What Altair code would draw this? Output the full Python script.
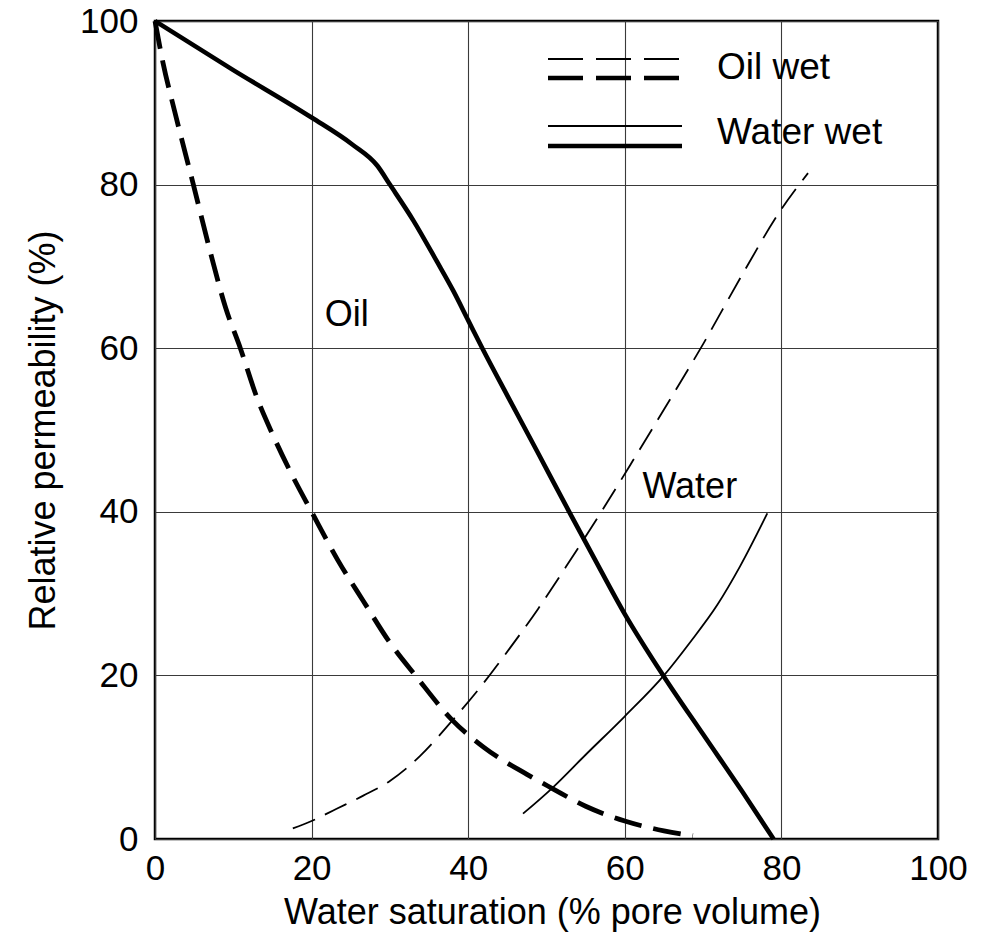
import altair as alt
import pandas as pd

# ---- data ----
ww_oil_x = [0, 10, 20, 25.2, 28.4, 30, 33, 36, 38.1, 40, 41.9, 45, 48.8, 52.9, 56, 60, 64.9, 70, 75, 79]
ww_oil_y = [100, 94, 88.2, 84.9, 82.3, 80, 75.6, 70.6, 67.0, 63.4, 59.8, 54.2, 47.4, 40, 34.5, 27.5, 20, 12.8, 5.8, 0]

ow_oil_x = [0, 1, 2.5, 4.9, 7, 9, 10.9, 13, 15, 17.5, 20, 23.4, 26.6, 30, 33.5, 37.9, 42, 47.5, 50.7, 55, 60, 65, 68.7]
ow_oil_y = [100, 95, 89, 80, 72, 65, 60, 54, 49.5, 44.5, 40, 34, 29.1, 24, 19.7, 14.6, 11.2, 7.9, 6.2, 4.0, 2.2, 1.0, 0.4]

ow_water_x = [17.6, 20, 23.2, 26.6, 30, 33.8, 37.9, 41.5, 45.3, 48.9, 52.5, 57, 61, 65, 70, 75, 80, 83.4]
ow_water_y = [1.3, 2.2, 3.7, 5.3, 7.1, 10.1, 14.4, 18.5, 23.3, 28.1, 33.3, 40, 46.2, 52.5, 60.5, 69, 77, 81.4]

ww_water_x = [47, 50.7, 55, 60, 65, 68.3, 71.8, 74.7, 78.2]
ww_water_y = [3.1, 6.2, 10.3, 15, 20, 24.0, 28.6, 33.3, 39.8]

note_text = ["Oil", "Water"]
note_x = [24.5, 68.3]
note_y = [64, 43]

legend_labels = ["Oil wet", "Water wet"]
tick_values = [0, 20, 40, 60, 80, 100]

FONT = "Liberation Sans, Arial, Helvetica, sans-serif"
W, H = 783, 818

xscale = alt.Scale(domain=[0, 100], nice=False, zero=False)
yscale = alt.Scale(domain=[0, 100], nice=False, zero=False)

xaxis = alt.Axis(
    values=tick_values, title="Water saturation (% pore volume)",
    grid=True, gridColor="#3a3a3a", gridWidth=1.1, tickSize=0,
    labelPadding=12, labelFontSize=35, labelFont=FONT, labelColor="black",
    titleFont=FONT, titleFontSize=36, titleFontWeight="normal", titleColor="black",
    titleX=397, titleY=84, titleBaseline="alphabetic",
    domain=False, labelFlush=False,
)
yaxis = alt.Axis(
    values=tick_values, title="Relative permeability (%)",
    grid=True, gridColor="#3a3a3a", gridWidth=1.1, tickSize=0,
    labelPadding=17, labelFontSize=35, labelFont=FONT, labelColor="black",
    titleFont=FONT, titleFontSize=36, titleFontWeight="normal", titleColor="black",
    titleX=-112, titleY=H / 2, titleBaseline="middle", titleAngle=-90,
    domain=False, labelFlush=False,
)


def curve(xs, ys, width, dash=None):
    df = pd.DataFrame({"x": xs, "y": ys, "i": list(range(len(xs)))})
    kw = dict(color="black", strokeWidth=width, strokeCap="butt", strokeJoin="round",
              interpolate="monotone")
    if dash:
        kw["strokeDash"] = dash
    return alt.Chart(df).mark_line(**kw).encode(
        x=alt.X("x:Q", scale=xscale, axis=xaxis),
        y=alt.Y("y:Q", scale=yscale, axis=yaxis),
        order="i:Q",
    )


layers = [
    curve(ww_oil_x, ww_oil_y, 4.6),
    curve(ow_oil_x, ow_oil_y, 4.8, [28, 12]),
    curve(ow_water_x, ow_water_y, 1.8, [24, 11]),
    curve(ww_water_x, ww_water_y, 1.8),
]

notes = alt.Chart(pd.DataFrame({"t": note_text, "x": note_x, "y": note_y})).mark_text(
    font=FONT, fontSize=36, color="black", align="center", baseline="middle"
).encode(
    x=alt.X("x:Q", scale=xscale, axis=xaxis),
    y=alt.Y("y:Q", scale=yscale, axis=yaxis),
    text="t:N",
)
layers.append(notes)

one = pd.DataFrame({"k": [0]})


def leg_line(ypix, width, dash=None):
    kw = dict(color="black", strokeWidth=width, strokeCap="butt")
    if dash:
        kw["strokeDash"] = dash
    return alt.Chart(one).mark_rule(**kw).encode(
        x=alt.value(393), x2=alt.value(527), y=alt.value(ypix)
    )


layers += [
    leg_line(38, 1.8, [35, 13]),
    leg_line(57, 4.6, [35, 13]),
    leg_line(105, 1.8),
    leg_line(125, 4.6),
]

for lbl, ypix in zip(legend_labels, [47, 112]):
    layers.append(
        alt.Chart(one).mark_text(
            text=lbl, font=FONT, fontSize=37, color="black", align="left", baseline="middle"
        ).encode(x=alt.value(562), y=alt.value(ypix))
    )

chart = alt.layer(*layers).properties(
    width=W, height=H,
    autosize=alt.AutoSizeParams(type="none"),
    padding={"left": 147, "top": 13, "right": 48, "bottom": 98},
    background="white",
).configure_view(stroke="black", strokeWidth=2.5)

chart.save("out.html", embed_options={"renderer": "svg", "actions": False})
